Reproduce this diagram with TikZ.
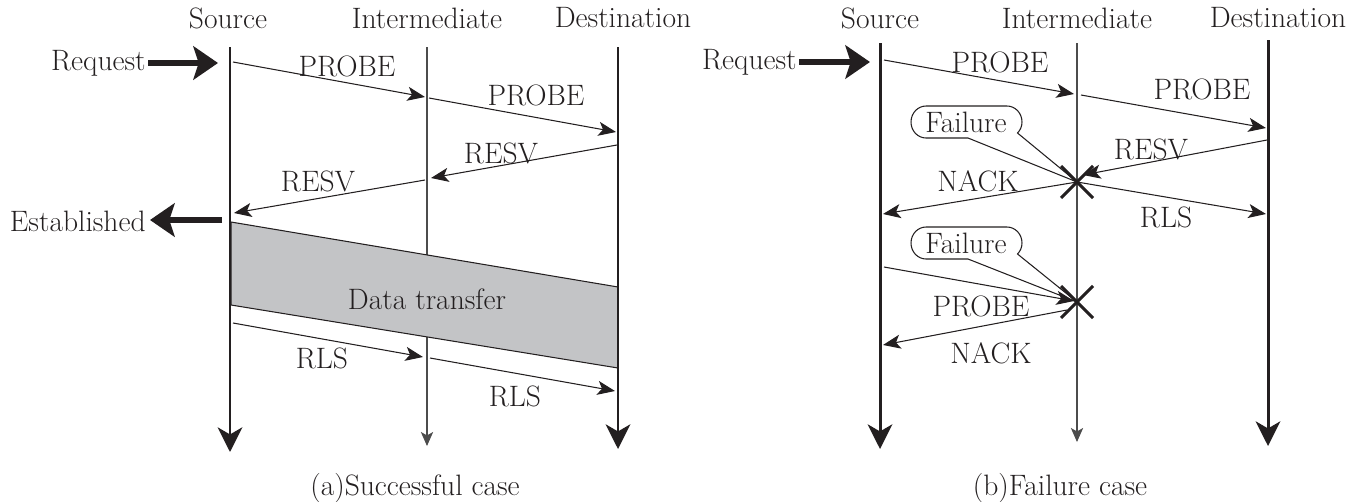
\documentclass[tikz,border=0pt]{standalone}
\usepackage{fontspec}
\usetikzlibrary{arrows.meta,calc}
\definecolor{ink}{HTML}{231F20}
\definecolor{bandgray}{HTML}{C3C4C6}
\begin{document}
\begin{tikzpicture}[x=0.02cm,y=-0.02cm,
  font=\fontsize{16.8}{20}\selectfont\addfontfeatures{FakeBold=1.2}, text=ink,
  life/.style={ink, line width=1.7pt, -{Stealth[length=14pt,width=14pt,inset=4pt]}},
  midlife/.style={black!70, line width=0.6pt, -{Stealth[length=8pt,width=7pt,inset=2pt]}},
  msg/.style={ink, line width=0.6pt, -{Stealth[length=10pt,width=8pt,inset=2.5pt]}},
  big/.style={ink, line width=3.8pt, -{Stealth[length=14pt,width=19pt,inset=3pt]}},
  cross/.style={ink, line width=1.7pt},
  callout/.style={ink, line width=0.6pt, fill=white},
  lbl/.style={inner sep=0pt}]
\useasboundingbox (0,0) rectangle (1360,501);

% ---------- (a) Successful case ----------
\node[lbl] (hs1) at (228,18) {Source};
\node[lbl] (hi1) at (427,18) {Intermediate};
\node[lbl] (hd1) at (623,18) {Destination};

\coordinate (s1t) at (230,47); \coordinate (s1b) at (230,452);
\coordinate (i1t) at (427,47); \coordinate (i1b) at (427,446);
\coordinate (d1t) at (618,47); \coordinate (d1b) at (618,449);

\draw[midlife] (i1t) -- (i1b);
\filldraw[fill=bandgray, draw=ink, line width=0.6pt]
  (231,222) -- (618,287) -- (618,368) -- (231,305) -- cycle;
\node[lbl] (dt) at (427,299) {Data transfer};

\draw[life] (s1t) -- (s1b);
\draw[life] (d1t) -- (d1b);

\node[lbl, anchor=east] (req1) at (146,63) {Request};
\coordinate (req1a) at (148,63); \coordinate (req1b) at (218,63);
\draw[big] (req1a) -- (req1b);

\coordinate (p1a) at (233,62);  \coordinate (p1b) at (425,97);
\coordinate (p2a) at (429,98);  \coordinate (p2b) at (616,132);
\coordinate (r1a) at (617,145); \coordinate (r1b) at (431,178);
\coordinate (r2a) at (425,180); \coordinate (r2b) at (234,213);
\coordinate (l1a) at (233,323); \coordinate (l1b) at (423,357);
\coordinate (l2a) at (430,358); \coordinate (l2b) at (615,391);
\draw[msg] (p1a) -- (p1b);
\draw[msg] (p2a) -- (p2b);
\draw[msg] (r1a) -- (r1b);
\draw[msg] (r2a) -- (r2b);
\draw[msg] (l1a) -- (l1b);
\draw[msg] (l2a) -- (l2b);
\node[lbl] (tp1) at (347,66) {PROBE};
\node[lbl] (tp2) at (536,95) {PROBE};
\node[lbl] (tr1) at (501,153) {RESV};
\node[lbl] (tr2) at (318,181) {RESV};
\node[lbl] (tl1) at (322,358) {RLS};
\node[lbl] (tl2) at (515,396) {RLS};

\node[lbl, anchor=east] (est) at (146,221) {Established};
\coordinate (esta) at (222,220); \coordinate (estb) at (150,220);
\draw[big] (esta) -- (estb);

\node[lbl] (capa) at (415,488) {(a)Successful case};

% ---------- (b) Failure case ----------
\node[lbl] (hs2) at (880,18) {Source};
\node[lbl] (hi2) at (1077,18) {Intermediate};
\node[lbl] (hd2) at (1278,18) {Destination};

\coordinate (s2t) at (880,43); \coordinate (s2b) at (880,449);
\coordinate (i2t) at (1077,43); \coordinate (i2b) at (1077,442);
\coordinate (d2t) at (1268,40); \coordinate (d2b) at (1268,446);
\coordinate (x1) at (1077,182);
\coordinate (x2) at (1077,302);

% callouts
\draw[callout] (968,138) -- (926,138) .. controls (917.7,138) and (911,130.8) .. (911,122)
  .. controls (911,113.2) and (917.7,106) .. (926,106)
  -- (1007,106) .. controls (1015.3,106) and (1022,113.2) .. (1022,122)
  .. controls (1022,126) and (1020.5,130) .. (1017.5,133)
  -- (x1) -- cycle;
\node[lbl] (f1) at (966,122) {Failure};
\draw[callout] (968,259) -- (926,259) .. controls (917.7,259) and (911,251.8) .. (911,243)
  .. controls (911,234.2) and (917.7,227) .. (926,227)
  -- (1007,227) .. controls (1015.3,227) and (1022,234.2) .. (1022,243)
  .. controls (1022,247) and (1020.5,251) .. (1017.5,254)
  -- (x2) -- cycle;
\node[lbl] (f2) at (966,243) {Failure};

\draw[life] (s2t) -- (s2b);
\draw[midlife] (i2t) -- (i2b);
\draw[life] (d2t) -- (d2b);

\node[lbl, anchor=east] (req2) at (797,62) {Request};
\coordinate (req2a) at (799,62); \coordinate (req2b) at (870,62);
\draw[big] (req2a) -- (req2b);

\coordinate (q1a) at (884,60);   \coordinate (q1b) at (1074,94);
\coordinate (q2a) at (1081,95);  \coordinate (q2b) at (1266,128);
\coordinate (rva) at (1267,140); \coordinate (rvb) at (1083,175);
\coordinate (n1b) at (883,214);
\coordinate (rlb) at (1266,214);
\coordinate (pba) at (884,267);  \coordinate (pbb) at (1074,301);
\coordinate (n2a) at (1067,310); \coordinate (n2b) at (883,345);
\draw[msg] (q1a) -- (q1b);
\draw[msg] (q2a) -- (q2b);
\draw[msg] (rva) -- (rvb);
\draw[msg] (x1) -- (n1b);
\draw[msg] (x1) -- (rlb);
\draw[msg] (pba) -- (pbb);
\draw[msg] (n2a) -- (n2b);
\node[lbl] (tq1) at (1000,62) {PROBE};
\node[lbl] (tq2) at (1202,89) {PROBE};
\node[lbl] (trv) at (1151,149) {RESV};
\node[lbl] (tn1) at (978,181) {NACK};
\node[lbl] (trl) at (1166,217) {RLS};
\node[lbl] (tpb) at (981,306) {PROBE};
\node[lbl] (tn2) at (991,353) {NACK};

\draw[cross] ($(x1)+(-16,-16)$) -- ($(x1)+(16,16)$);
\draw[cross] ($(x1)+(16,-16)$) -- ($(x1)+(-16,16)$);
\draw[cross] ($(x2)+(-16,-16)$) -- ($(x2)+(16,16)$);
\draw[cross] ($(x2)+(16,-16)$) -- ($(x2)+(-16,16)$);

\node[lbl] (capb) at (1060,488) {(b)Failure case};
\end{tikzpicture}
\end{document}
